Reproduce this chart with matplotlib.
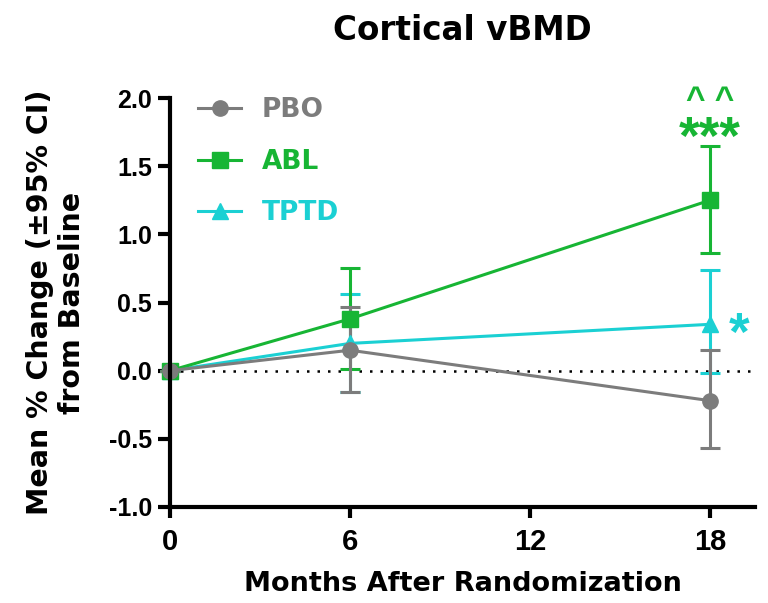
import matplotlib.pyplot as plt
from matplotlib.lines import Line2D

plt.rcParams['font.family'] = ['DejaVu Sans']
plt.rcParams['font.weight'] = 'bold'
NUM_FONT = ['Liberation Sans', 'DejaVu Sans']

months = [0, 6, 18]

pbo = [0.0, 0.15, -0.22]
pbo_lo = [0.0, -0.16, -0.57]
pbo_hi = [0.0, 0.47, 0.15]

abl = [0.0, 0.38, 1.25]
abl_lo = [0.0, 0.01, 0.86]
abl_hi = [0.0, 0.75, 1.65]

tptd = [0.0, 0.20, 0.34]
tptd_lo = [0.0, -0.16, -0.02]
tptd_hi = [0.0, 0.56, 0.74]

c_pbo = '#7c7c7c'
c_abl = '#17b534'
c_tptd = '#1bd0d3'

fig = plt.figure(figsize=(7.68, 6.03), dpi=100)
ax = fig.add_axes([170 / 768, 1 - 507 / 603, 585 / 768, 409 / 603])

ax.axhline(0, color='black', linestyle=(0, (1, 3.2)), linewidth=1.8, zorder=1)


def draw(y, lo, hi, color, marker):
    err = [[a - b for a, b in zip(y, lo)], [b - a for a, b in zip(y, hi)]]
    ax.errorbar(months, y, yerr=err, color=color, marker=marker, markersize=11,
                linewidth=2.2, elinewidth=2.2, capsize=7, capthick=2.2,
                clip_on=False)


draw(tptd, tptd_lo, tptd_hi, c_tptd, '^')
draw(abl, abl_lo, abl_hi, c_abl, 's')
draw(pbo, pbo_lo, pbo_hi, c_pbo, 'o')

ax.set_xlim(0, 19.5)
ax.set_ylim(-1.0, 2.0)
ax.set_xticks([0, 6, 12, 18])
ax.set_xticklabels(['0', '6', '12', '18'], family=NUM_FONT, fontsize=21, fontweight='bold')
ax.set_yticks([-1.0, -0.5, 0.0, 0.5, 1.0, 1.5, 2.0])
ax.set_yticklabels(['-1.0', '-0.5', '0.0', '0.5', '1.0', '1.5', '2.0'],
                   family=NUM_FONT, fontsize=18, fontweight='bold')
ax.spines['top'].set_visible(False)
ax.spines['right'].set_visible(False)
for s in ['left', 'bottom']:
    ax.spines[s].set_linewidth(3)
ax.tick_params(axis='y', width=3, length=9, pad=4)
ax.tick_params(axis='x', width=3, length=8, pad=7)

ax.set_xlabel('Months After Randomization', fontsize=19.5, fontweight='bold', labelpad=11)
ax.set_ylabel('Mean % Change (\u00b195% CI)\nfrom Baseline', fontsize=20.5,
              fontweight='bold', labelpad=16)
ax.set_title('Cortical vBMD', fontsize=23.5, fontweight='bold', pad=42)

ax.text(18, 1.59, '***', color=c_abl, fontsize=38, ha='center', va='baseline',
        fontweight='bold', family=NUM_FONT)
ax.text(18, 1.92, '^ ^', color=c_abl, fontsize=24, ha='center', va='baseline',
        fontweight='bold', family=NUM_FONT)
ax.text(18.97, 0.155, '*', color=c_tptd, fontsize=38, ha='center', va='baseline',
        fontweight='bold', family=NUM_FONT)

handles = [
    Line2D([], [], color=c_pbo, marker='o', markersize=11, linewidth=2.2),
    Line2D([], [], color=c_abl, marker='s', markersize=11, linewidth=2.2),
    Line2D([], [], color=c_tptd, marker='^', markersize=11, linewidth=2.2),
]
labels = ['PBO', 'ABL', 'TPTD']
leg = ax.legend(handles, labels, loc='upper left', bbox_to_anchor=(0.008, 1.06),
                frameon=False, prop={'size': 19, 'weight': 'bold'},
                handlelength=1.6, handletextpad=0.8, labelspacing=0.97)
for text, col in zip(leg.get_texts(), [c_pbo, c_abl, c_tptd]):
    text.set_color(col)

fig.savefig('out.png', dpi=100)
